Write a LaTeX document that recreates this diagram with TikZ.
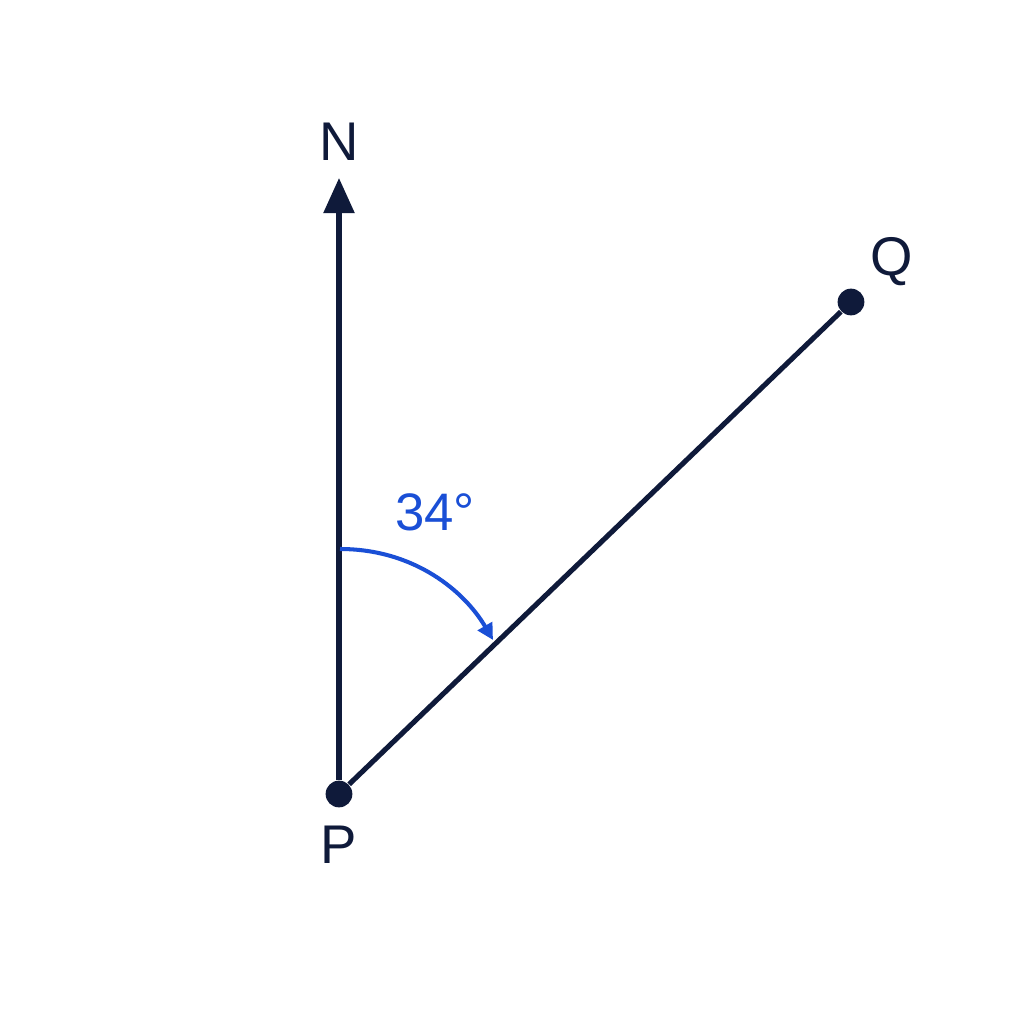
\documentclass[tikz,border=0pt]{standalone}
\usepackage{fontspec}
\setmainfont{Liberation Sans}
\usetikzlibrary{arrows.meta}
\definecolor{navy}{HTML}{0F1A3A}
\definecolor{angblue}{HTML}{1A4FD6}
\begin{document}
\begin{tikzpicture}[x=0.01cm,y=-0.01cm,
  dot/.style={circle,fill=navy,inner sep=0pt,minimum size=7.6pt},
  lbl/.style={text=navy,font=\fontsize{15.5}{18}\selectfont,inner sep=0pt},
  ray/.style={draw=navy,line width=1.45pt},
  anglbl/.style={text=angblue,font=\fontsize{15}{18}\selectfont,inner sep=0pt}]
\useasboundingbox[fill=white] (0,0) rectangle (1024,1024);
\node[dot] (P) at (339,794) {};
\node[dot] (Q) at (851,302) {};
\coordinate (Ntip) at (339,178);
\coordinate (A0) at (340,549);
\coordinate (A1) at (493,640);
\draw[ray,-{Triangle[width=8.6pt,length=10pt]}] (P) -- (Ntip);
\draw[ray] (P) -- (Q);
\draw[draw=angblue,line width=1.15pt,-{Triangle[width=4.6pt,length=4.6pt]}] (A0) .. controls (415,549) and (465,592) .. (A1);
\node[lbl] (Nl) at (339,142) {N};
\node[lbl] (Pl) at (339,845) {P};
\node[lbl] (Ql) at (892,262) {Q};
\node[anglbl] (ang) at (435,512) {34°};
\end{tikzpicture}
\end{document}
